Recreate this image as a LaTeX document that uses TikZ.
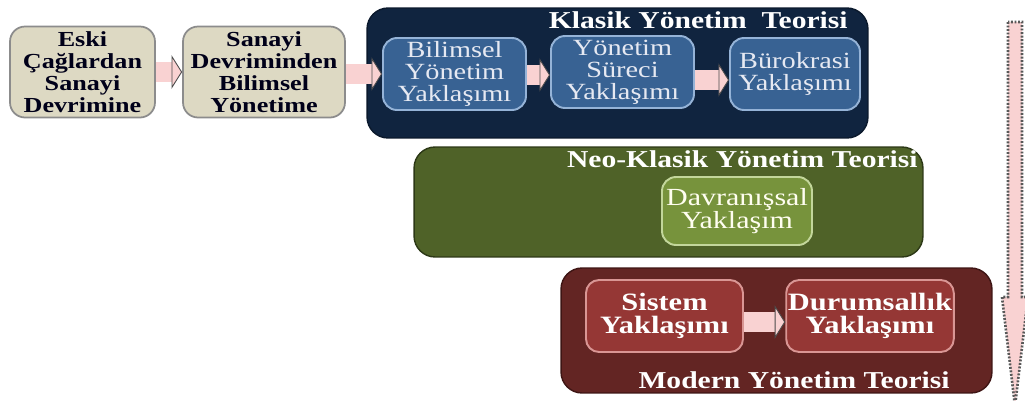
\documentclass[tikz,border=0pt]{standalone}
\usepackage{fontspec}
\setmainfont{Liberation Serif}[FakeStretch=1.22]
\usetikzlibrary{arrows.meta}

\definecolor{beigefill}{HTML}{DDD9C3}
\definecolor{beigeline}{HTML}{8C8C8C}
\definecolor{navyfill}{HTML}{10243F}
\definecolor{bluefill}{HTML}{386293}
\definecolor{blueline}{HTML}{95B3D7}
\definecolor{bluetext}{HTML}{E6E9F2}
\definecolor{olivefill}{HTML}{4F6228}
\definecolor{oliveline}{HTML}{2C3816}
\definecolor{greenfill}{HTML}{77933C}
\definecolor{greenline}{HTML}{C3D69B}
\definecolor{maroonfill}{HTML}{632523}
\definecolor{maroonline}{HTML}{3E1514}
\definecolor{redfill}{HTML}{953735}
\definecolor{redline}{HTML}{D99694}
\definecolor{arrowpink}{HTML}{F9D2D2}

\tikzset{
  beigebox/.style={draw=beigeline, line width=1pt, fill=beigefill, rounded corners=0.3cm,
    align=center, inner sep=1pt, text=black!90!blue,
    font=\fontsize{12.2}{12.4}\selectfont\bfseries},
  container/.style={rounded corners=0.42cm, inner sep=0pt, line width=0.8pt},
  bluebox/.style={draw=blueline, line width=1.1pt, fill=bluefill, rounded corners=0.28cm,
    align=center, inner sep=1pt, text=bluetext, minimum width=2.86cm, minimum height=1.44cm,
    font=\fontsize{13.2}{12.6}\selectfont},
  greenbox/.style={draw=greenline, line width=1.1pt, fill=greenfill, rounded corners=0.28cm,
    align=center, inner sep=1pt, text=white!94!yellow,
    font=\fontsize{14}{13}\selectfont},
  redbox/.style={draw=redline, line width=1.1pt, fill=redfill, rounded corners=0.26cm,
    align=center, inner sep=1pt, text=white, minimum height=1.44cm,
    font=\fontsize{14.2}{12.8}\selectfont\bfseries},
  theorytitle/.style={anchor=base east, inner sep=0pt, text=white,
    font=\fontsize{13.8}{13.8}\selectfont\bfseries},
  blockarrow/.style={draw=arrowpink, line width=11pt,
    -{Triangle[length=6pt,width=19pt,color=black!70,fill=arrowpink,line width=0.5pt]}},
}

\begin{document}
\begin{tikzpicture}[x=0.02cm, y=-0.02cm]
\useasboundingbox (0,0) rectangle (1025,400);

% early periods
\node[beigebox, minimum width=2.9cm, minimum height=1.82cm] (eski) at (82.5,72)
  {Eski\\Çağlardan\\Sanayi\\Devrimine};
\node[beigebox, minimum width=3.24cm, minimum height=1.82cm] (sanayi) at (264,72)
  {Sanayi\\Devriminden\\Bilimsel\\Yönetime};

% classical theory
\node[container, fill=navyfill, draw=navyfill!70!black, minimum width=10.02cm, minimum height=2.6cm]
  (klasik) at (617.5,73) {};
\node[theorytitle] (klasiktitle) at (848,28) {Klasik Yönetim~ Teorisi};
\node[bluebox] (bilimsel) at (454.5,74) {Bilimsel\\Yönetim\\Yaklaşımı};
\node[bluebox] (surec) at (622.5,72) {Yönetim\\Süreci\\Yaklaşımı};
\node[bluebox, minimum width=2.6cm] (burokrasi) at (795,74) {Bürokrasi\\Yaklaşımı};

% neo-classical theory
\node[container, fill=olivefill, draw=oliveline, minimum width=10.18cm, minimum height=2.2cm]
  (neo) at (668.5,202) {};
\node[theorytitle] (neotitle) at (918,167) {Neo-Klasik Yönetim Teorisi};
\node[greenbox, minimum width=3.0cm, minimum height=1.36cm] (davranis) at (737,211)
  {Davranışsal\\Yaklaşım};

% modern theory
\node[container, fill=maroonfill, draw=maroonline, minimum width=8.62cm, minimum height=2.5cm]
  (modern) at (776.5,330.5) {};
\node[theorytitle] (moderntitle) at (950,388) {Modern Yönetim Teorisi};
\node[redbox, minimum width=3.14cm] (sistem) at (664.5,316) {Sistem\\Yaklaşımı};
\node[redbox, minimum width=3.28cm] (durum) at (870,316) {Durumsallık\\Yaklaşımı};

% block arrows between stages
\draw[blockarrow] (eski.east) -- (sanayi.west);
\draw[blockarrow] ([yshift=-0.04cm]sanayi.east) -- ([yshift=-0.04cm]sanayi.east -| bilimsel.west);
\draw[blockarrow] ([yshift=-0.02cm]bilimsel.east) -- ([yshift=-0.02cm]bilimsel.east -| surec.west);
\draw[blockarrow] ([yshift=-0.16cm]surec.east) -- ([yshift=-0.16cm]surec.east -| burokrasi.west);
\draw[blockarrow] ([yshift=-0.12cm]sistem.east) -- ([yshift=-0.12cm]durum.west);

% time axis on the right
\coordinate (flowtop) at (1015,22);
\coordinate (flowend) at (1015,406);
\draw[fill=arrowpink, draw=black!65, dash pattern=on 1.1pt off 0.9pt, line width=1.5pt]
  (flowtop) ++(-7,0) -- ++(0,275) -- ++(-6,0) -- (flowend)
  -- ++(13,-109) -- ++(-6,0) -- ++(0,-275) -- cycle;
\end{tikzpicture}
\end{document}
